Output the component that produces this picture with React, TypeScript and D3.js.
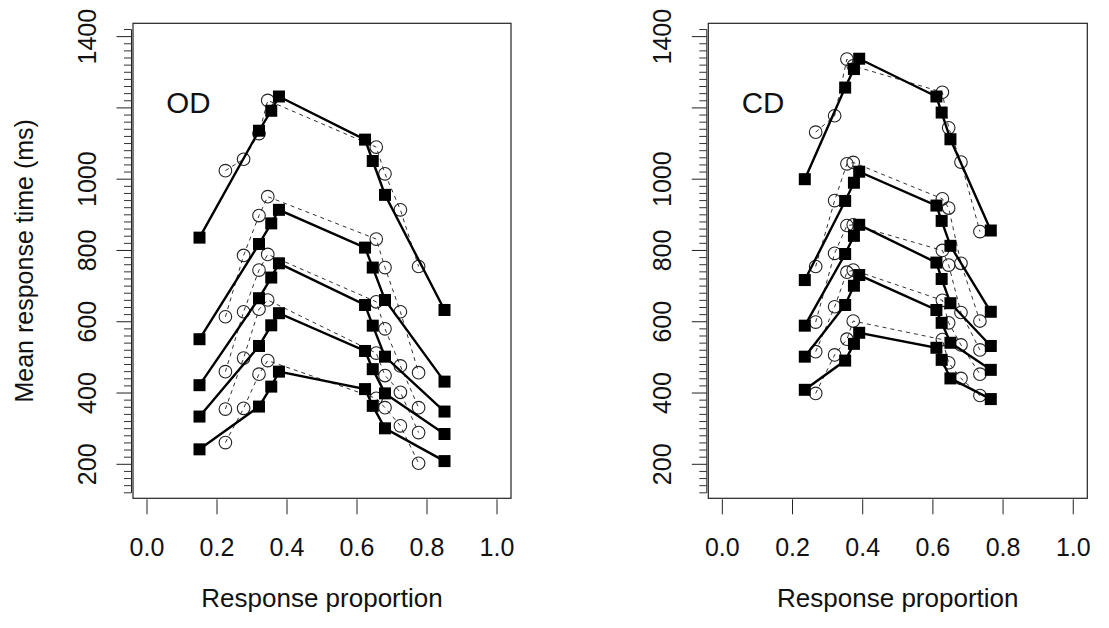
import React from "react";
import * as d3 from "d3";

// ---------- data ----------
const xTicks = [0, 0.2, 0.4, 0.6, 0.8, 1.0];
const yMajorTicks = [200, 400, 600, 800, 1000, 1200, 1400];
const yTickLabels = [200, 400, 600, 800, 1000, 1400];
const yMinorTicks = d3.range(120, 1421, 20).filter((v) => v % 200 !== 0);

// OD panel
const odModelX = [0.15, 0.32, 0.355, 0.377, 0.623, 0.645, 0.68, 0.85];
const odDataX = [0.224, 0.276, 0.32, 0.345, 0.655, 0.68, 0.724, 0.776];
const odModel1 = [242, 362, 418, 460, 411, 364, 301, 209];
const odModel2 = [334, 532, 590, 624, 518, 467, 399, 285];
const odModel3 = [422, 666, 724, 764, 647, 589, 502, 348];
const odModel4 = [551, 818, 876, 914, 808, 752, 661, 432];
const odModel5 = [836, 1136, 1192, 1232, 1111, 1051, 956, 633];
const odData1 = [261, 357, 453, 491, 385, 359, 308, 203];
const odData2 = [355, 498, 635, 661, 512, 449, 402, 289];
const odData3 = [460, 628, 745, 789, 656, 580, 476, 359];
const odData4 = [614, 786, 898, 951, 832, 752, 628, 457];
const odData5 = [1024, 1056, 1128, 1221, 1090, 1015, 914, 755];

// CD panel
const cdModelX = [0.235, 0.35, 0.375, 0.39, 0.61, 0.625, 0.65, 0.765];
const cdDataX = [0.266, 0.32, 0.355, 0.373, 0.627, 0.645, 0.68, 0.734];
const cdModel1 = [409, 491, 538, 569, 527, 493, 441, 383];
const cdModel2 = [502, 647, 701, 731, 633, 597, 541, 465];
const cdModel3 = [589, 790, 841, 872, 766, 720, 652, 532];
const cdModel4 = [717, 939, 990, 1021, 926, 883, 813, 628];
const cdModel5 = [1000, 1257, 1309, 1338, 1232, 1187, 1112, 856];
const cdData1 = [399, 507, 551, 602, 550, 485, 441, 393];
const cdData2 = [516, 642, 739, 745, 660, 597, 535, 453];
const cdData3 = [599, 792, 870, 872, 800, 759, 626, 521];
const cdData4 = [755, 940, 1043, 1047, 945, 919, 764, 602];
const cdData5 = [1132, 1178, 1337, 1318, 1244, 1144, 1048, 853];

const panels = [
  {
    label: "OD",
    modelX: odModelX,
    dataX: odDataX,
    model: [odModel1, odModel2, odModel3, odModel4, odModel5],
    data: [odData1, odData2, odData3, odData4, odData5],
    left: 133,
    right: 511,
    showYTitle: true,
  },
  {
    label: "CD",
    modelX: cdModelX,
    dataX: cdDataX,
    model: [cdModel1, cdModel2, cdModel3, cdModel4, cdModel5],
    data: [cdData1, cdData2, cdData3, cdData4, cdData5],
    left: 708.3,
    right: 1087.3,
    showYTitle: false,
  },
];

const FONT = "'Liberation Sans', Arial, Helvetica, sans-serif";
const TOP = 23.3;
const BOTTOM = 498.3;

function Panel({ p }: { p: (typeof panels)[number] }) {
  const x = d3.scaleLinear().domain([-0.04, 1.04]).range([p.left, p.right]);
  const y = d3.scaleLinear().domain([104.6, 1437.4]).range([BOTTOM, TOP]);
  const line = (xs: number[]) =>
    d3
      .line<number>()
      .x((_, i) => x(xs[i]))
      .y((d) => y(d));
  const axisX = p.left - 1.5;
  return (
    <g>
      {/* box */}
      <rect
        x={p.left}
        y={TOP}
        width={p.right - p.left}
        height={BOTTOM - TOP}
        fill="none"
        stroke="#222"
        strokeWidth={1.2}
      />
      {/* y axis */}
      <line
        x1={axisX}
        x2={axisX}
        y1={y(yMinorTicks[0])}
        y2={y(yMinorTicks[yMinorTicks.length - 1])}
        stroke="#222"
        strokeWidth={1}
      />
      {yMajorTicks.map((v) => (
        <line key={"M" + v} x1={axisX - 15} x2={axisX} y1={y(v)} y2={y(v)} stroke="#222" strokeWidth={1} />
      ))}
      {yMinorTicks.map((v) => (
        <line key={"m" + v} x1={axisX - 7.5} x2={axisX} y1={y(v)} y2={y(v)} stroke="#333" strokeWidth={1} />
      ))}
      {yTickLabels.map((v) => (
        <text
          key={"yl" + v}
          transform={`translate(${p.left - 37},${y(v)}) rotate(-90)`}
          textAnchor="middle"
          fontFamily={FONT}
          fontSize={25}
          fill="#111"
        >
          {v}
        </text>
      ))}
      {/* x axis */}
      {xTicks.map((v) => (
        <line key={"xt" + v} x1={x(v)} x2={x(v)} y1={BOTTOM + 1} y2={BOTTOM + 16} stroke="#222" strokeWidth={1} />
      ))}
      {xTicks.map((v) => (
        <text
          key={"xl" + v}
          x={x(v)}
          y={556}
          textAnchor="middle"
          fontFamily={FONT}
          fontSize={25}
          fill="#111"
        >
          {v.toFixed(1)}
        </text>
      ))}
      <text
        x={(p.left + p.right) / 2}
        y={607}
        textAnchor="middle"
        fontFamily={FONT}
        fontSize={26}
        fill="#111"
      >
        Response proportion
      </text>
      {p.showYTitle && (
        <text
          transform={`translate(33,${(TOP + BOTTOM) / 2}) rotate(-90)`}
          textAnchor="middle"
          fontFamily={FONT}
          fontSize={25}
          fill="#111"
        >
          Mean response time (ms)
        </text>
      )}
      <text x={x(0.055)} y={112.5} fontFamily={FONT} fontSize={29.5} fill="#111">
        {p.label}
      </text>
      {/* data: dashed lines + open circles */}
      {p.data.map((s, k) => (
        <g key={"d" + k}>
          <path
            d={line(p.dataX)(s) || ""}
            fill="none"
            stroke="#333"
            strokeWidth={1}
            strokeDasharray="4,4"
          />
          {s.map((v, i) => (
            <circle key={i} cx={x(p.dataX[i])} cy={y(v)} r={6.3} fill="none" stroke="#222" strokeWidth={1.1} />
          ))}
        </g>
      ))}
      {/* model: solid lines + filled squares */}
      {p.model.map((s, k) => (
        <g key={"m" + k}>
          <path d={line(p.modelX)(s) || ""} fill="none" stroke="#000" strokeWidth={2.4} />
          {s.map((v, i) => (
            <rect key={i} x={x(p.modelX[i]) - 6} y={y(v) - 6} width={12} height={12} fill="#000" />
          ))}
        </g>
      ))}
    </g>
  );
}

export default function App() {
  return (
    <svg
      width={1109}
      height={628}
      style={{ position: "absolute", left: 0, top: 0, background: "#fff" }}
    >
      <rect x={0} y={0} width={1109} height={628} fill="#fff" />
      {panels.map((p) => (
        <Panel key={p.label} p={p} />
      ))}
    </svg>
  );
}
